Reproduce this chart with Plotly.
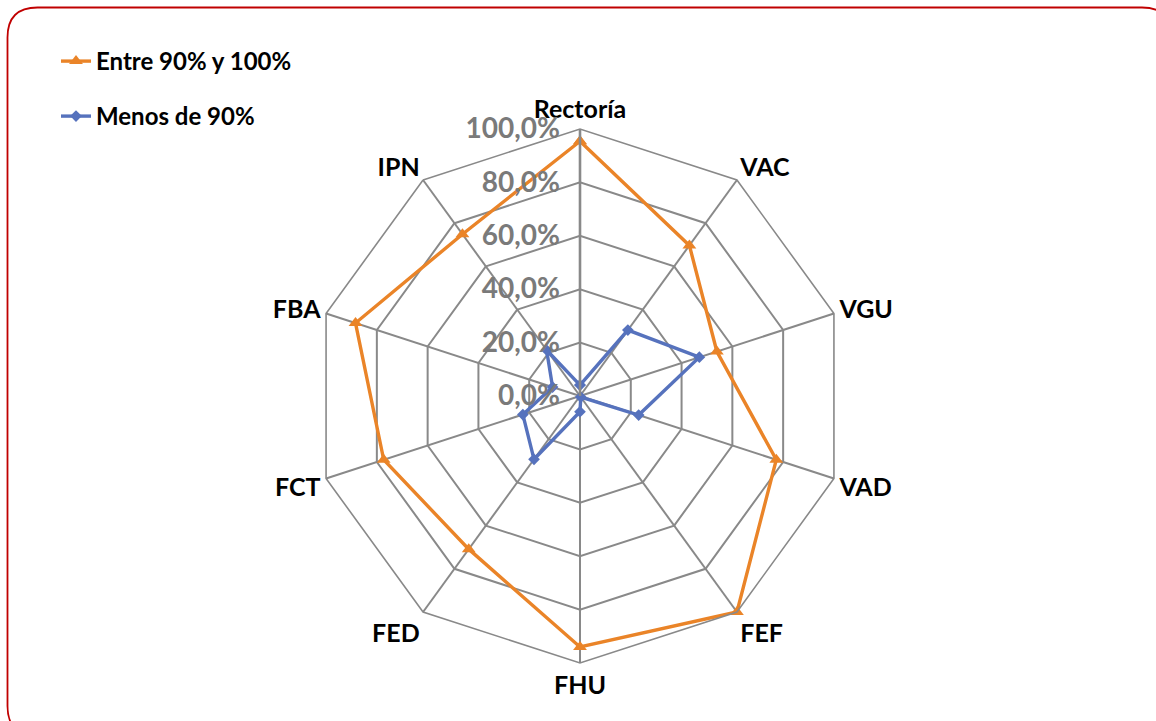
import plotly.graph_objects as go

categories = ["Rectoría", "VAC", "VGU", "VAD", "FEF", "FHU", "FED", "FCT", "FBA", "IPN"]
entre_90_100 = [0.954, 0.697, 0.539, 0.773, 1.0, 0.94, 0.709, 0.773, 0.884, 0.749]
menos_90 = [0.041, 0.305, 0.47, 0.231, 0.005, 0.059, 0.293, 0.225, 0.108, 0.213]
radial_ticks = [0, 0.2, 0.4, 0.6, 0.8, 1.0]
radial_ticktext = ["0,0%", "20,0%", "40,0%", "60,0%", "80,0%", "100,0%"]

W, H = 1156, 721
ORANGE = "#EA8428"
BLUE = "#5672BD"
GRID = "#898989"
FONT = "Lato"

fig = go.Figure()
fig.add_trace(go.Scatterpolar(
    r=entre_90_100 + entre_90_100[:1], theta=categories + categories[:1],
    mode="lines+markers", name="Entre 90% y 100%",
    line=dict(color=ORANGE, width=3.4),
    marker=dict(symbol="triangle-up", size=12, color=ORANGE),
    legend="legend", showlegend=True,
))
fig.add_trace(go.Scatterpolar(
    r=menos_90 + menos_90[:1], theta=categories + categories[:1],
    mode="lines+markers", name="Menos de 90%",
    line=dict(color=BLUE, width=3.4),
    marker=dict(symbol="diamond", size=9, color=BLUE),
    legend="legend2", showlegend=True,
))

cx, cy, R = 580, 396, 267
dom_x = [(cx - R) / W, (cx + R) / W]
dom_y = [1 - (cy + R) / H, 1 - (cy - R) / H]


def px(x):
    return x / W


def py(y):
    return 1 - y / H


x0, y0, x1, y1, rr = 7.5, 7.5, 1172, 736, 30
path = (
    f"M {px(x0 + rr)},{py(y0)} L {px(x1 - rr)},{py(y0)} "
    f"Q {px(x1)},{py(y0)} {px(x1)},{py(y0 + rr)} "
    f"L {px(x1)},{py(y1 - rr)} Q {px(x1)},{py(y1)} {px(x1 - rr)},{py(y1)} "
    f"L {px(x0 + rr)},{py(y1)} Q {px(x0)},{py(y1)} {px(x0)},{py(y1 - rr)} "
    f"L {px(x0)},{py(y0 + rr)} Q {px(x0)},{py(y0)} {px(x0 + rr)},{py(y0)} Z"
)

legend_font = dict(family=FONT, size=24, color="black", weight="bold")

fig.update_layout(
    width=W, height=H,
    margin=dict(l=0, r=0, t=0, b=0),
    paper_bgcolor="white",
    showlegend=True,
    font=dict(family=FONT),
    polar=dict(
        domain=dict(x=dom_x, y=dom_y),
        bgcolor="white",
        gridshape="linear",
        angularaxis=dict(
            rotation=90, direction="clockwise",
            showline=True, linecolor=GRID, linewidth=1.6,
            gridcolor=GRID, gridwidth=1.6,
            ticks="", tickfont=dict(family=FONT, size=25, color="black", weight="bold"),
        ),
        radialaxis=dict(
            range=[0, 1], angle=90, tickangle=90, side="counterclockwise",
            tickvals=radial_ticks, ticktext=radial_ticktext,
            showline=True, linecolor=GRID, linewidth=2.6,
            gridcolor=GRID, gridwidth=1.6,
            ticks="outside", ticklen=9, tickcolor="rgba(0,0,0,0)",
            tickfont=dict(family=FONT, size=28, color="#7A7A7A", weight="bold"),
        ),
    ),
    legend=dict(x=px(56), y=py(39), xanchor="left", yanchor="top",
                bgcolor="rgba(0,0,0,0)", font=legend_font),
    legend2=dict(x=px(56), y=py(94), xanchor="left", yanchor="top",
                 bgcolor="rgba(0,0,0,0)", font=legend_font),
    shapes=[dict(type="path", xref="paper", yref="paper", path=path,
                 line=dict(color="#C00000", width=1.8), layer="above")],
)

fig.write_html(
    "out.html",
    config={"displayModeBar": False},
    post_script="document.body.style.margin='0';document.body.style.padding='0';",
)
